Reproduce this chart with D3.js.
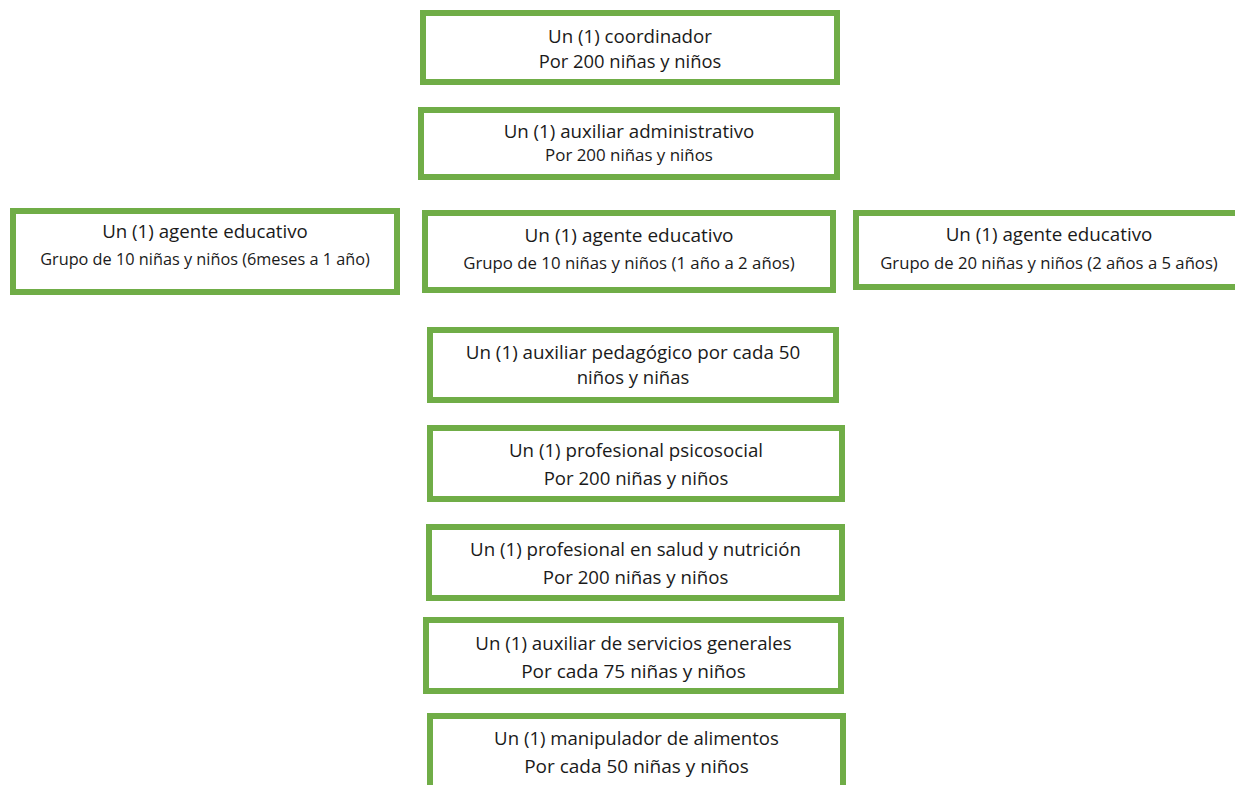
<!DOCTYPE html>
<html><head><meta charset="utf-8">
<script src="https://cdn.jsdelivr.net/npm/d3@7"></script>
<style>html,body{margin:0;padding:0;background:#fff;overflow:hidden}</style>
</head><body>
<svg id="c" width="1235" height="785"></svg>
<script>
// Data
const roles = [
  "Un (1) coordinador",
  "Un (1) auxiliar administrativo",
  "Un (1) agente educativo",
  "Un (1) agente educativo",
  "Un (1) agente educativo",
  "Un (1) auxiliar pedagógico por cada 50",
  "Un (1) profesional psicosocial",
  "Un (1) profesional en salud y nutrición",
  "Un (1) auxiliar de servicios generales",
  "Un (1) manipulador de alimentos"
];
const ratios = [
  "Por 200 niñas y niños",
  "Por 200 niñas y niños",
  "Grupo de 10 niñas y niños (6meses a 1 año)",
  "Grupo de 10 niñas y niños (1 año a 2 años)",
  "Grupo de 20 niñas y niños (2 años a 5 años)",
  "niños y niñas",
  "Por 200 niñas y niños",
  "Por 200 niñas y niños",
  "Por cada 75 niñas y niños",
  "Por cada 50 niñas y niños"
];

// Layout (outer box edges, text baselines, font sizes)
const layout = [
  {x0:420,x1:840,y0:10,y1:85, b1:43,b2:68, f1:18.7,f2:18.4},
  {x0:418,x1:840,y0:107,y1:180, b1:138,b2:161, f1:18.7,f2:16.9},
  {x0:10,x1:400,y0:208,y1:295, b1:238,b2:265, f1:18.7,f2:16.3},
  {x0:422,x1:836,y0:210,y1:293, b1:242,b2:269, f1:19,f2:16.8},
  {x0:853,x1:1245,y0:210,y1:290, b1:241,b2:269, f1:18.8,f2:16.7},
  {x0:427,x1:839,y0:327,y1:403, b1:359,b2:384, f1:18.8,f2:18.5},
  {x0:427,x1:845,y0:425,y1:502, b1:457,b2:485, f1:18.7,f2:18.6},
  {x0:426,x1:845,y0:524,y1:601, b1:556,b2:584, f1:18.7,f2:18.7},
  {x0:423,x1:844,y0:617,y1:694, b1:650,b2:678, f1:18.7,f2:19},
  {x0:427,x1:846,y0:713,y1:800, b1:745,b2:773, f1:18.6,f2:19}
];

const svg = d3.select("#c");
const bw = 6;
const font = "'Open Sans', sans-serif";
const nodes = roles.map((r,i)=>({role:r, ratio:ratios[i], L:layout[i]}));
const g = svg.selectAll("g.box").data(nodes).join("g").attr("class","box");
g.append("rect")
  .attr("x",d=>d.L.x0+bw/2).attr("y",d=>d.L.y0+bw/2)
  .attr("width",d=>d.L.x1-d.L.x0-bw).attr("height",d=>d.L.y1-d.L.y0-bw)
  .attr("fill","#fff").attr("stroke","#70AD47").attr("stroke-width",bw);
g.append("text")
  .attr("x",d=>(d.L.x0+d.L.x1)/2).attr("y",d=>d.L.b1)
  .attr("text-anchor","middle").attr("font-family",font)
  .attr("font-size",d=>d.L.f1).attr("fill","#1a1a1a").text(d=>d.role);
g.append("text")
  .attr("x",d=>(d.L.x0+d.L.x1)/2).attr("y",d=>d.L.b2)
  .attr("text-anchor","middle").attr("font-family",font)
  .attr("font-size",d=>d.L.f2).attr("fill","#1a1a1a").text(d=>d.ratio);
</script>
</body></html>
